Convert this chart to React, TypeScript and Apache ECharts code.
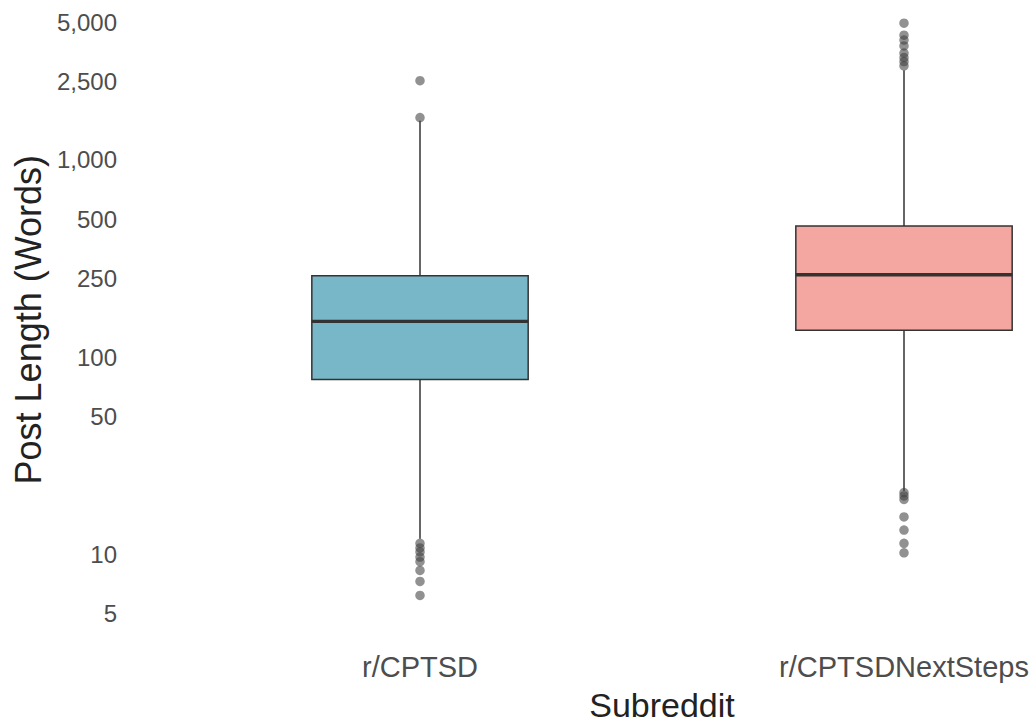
import React, { useEffect, useRef } from "react";
import * as echarts from "echarts";

const categories = ["r/CPTSD", "r/CPTSDNextSteps"];
const boxMin = [12, 21];
const boxQ1 = [77, 137];
const boxMedian = [152, 262];
const boxQ3 = [259, 462];
const boxMax = [1580, 2850];
const outliersCPTSD = [2520, 1640, 11.4, 10.8, 10.3, 9.7, 9.2, 8.3, 7.3, 6.2];
const outliersNextSteps = [4930, 4290, 4050, 3780, 3480, 3300, 3150, 3000, 20.6, 19.8, 19.0, 15.5, 13.3, 11.4, 10.2];
const tickValues = [5, 10, 50, 100, 250, 500, 1000, 2500, 5000];
const boxColors = ["#78B7C8", "#F4A6A1"];

const lg = (v: number) => Math.log10(v);

export default function App() {
  const ref = useRef<HTMLDivElement>(null);
  useEffect(() => {
    if (!ref.current) return;
    const chart = echarts.init(ref.current, null, { renderer: "svg" });
    const boxData = categories.map((_, i) => [
      i,
      lg(boxMin[i]),
      lg(boxQ1[i]),
      lg(boxMedian[i]),
      lg(boxQ3[i]),
      lg(boxMax[i]),
    ]);
    const outlierData = [
      ...outliersCPTSD.map((v) => [0, lg(v)]),
      ...outliersNextSteps.map((v) => [1, lg(v)]),
    ];
    const font = "'Liberation Sans', Arial, sans-serif";
    chart.setOption({
      animation: false,
      backgroundColor: "#ffffff",
      grid: { left: 420, right: 130, top: 6.4, bottom: 83.5, containLabel: false },
      xAxis: {
        type: "category",
        data: categories,
        boundaryGap: false,
        axisLine: { show: false },
        axisTick: { show: false },
        splitLine: { show: false },
        axisLabel: { fontSize: 29, color: "#4d4d4d", margin: 19, fontFamily: font },
        name: "Subreddit",
        nameLocation: "middle",
        nameGap: 55,
        nameTextStyle: { fontSize: 34, color: "#222222", fontFamily: font },
      },
      yAxis: {
        type: "value",
        min: lg(4),
        max: lg(6000),
        axisLine: { show: false },
        axisTick: { show: false, customValues: tickValues.map(lg) },
        splitLine: { show: false },
        axisLabel: {
          customValues: tickValues.map(lg),
          formatter: (v: number) => Math.round(Math.pow(10, v)).toLocaleString("en-US"),
          fontSize: 24,
          color: "#4d4d4d",
          margin: 303,
          fontFamily: font,
        },
        name: "Post Length (Words)",
        nameLocation: "middle",
        nameRotate: 90,
        nameGap: 374,
        nameTextStyle: { fontSize: 36, color: "#222222", fontFamily: font },
      },
      series: [
        {
          type: "custom",
          data: boxData,
          encode: { x: 0, y: [1, 2, 3, 4, 5] },
          renderItem: (params: any, api: any) => {
            const x = api.value(0);
            const pMin = api.coord([x, api.value(1)]);
            const pQ1 = api.coord([x, api.value(2)]);
            const pMed = api.coord([x, api.value(3)]);
            const pQ3 = api.coord([x, api.value(4)]);
            const pMax = api.coord([x, api.value(5)]);
            const bw = api.size([1, 0])[0] * 0.447;
            const cx = pMed[0];
            const stroke = "#333333";
            return {
              type: "group",
              children: [
                { type: "line", shape: { x1: cx, y1: pMax[1], x2: cx, y2: pQ3[1] }, style: { stroke, lineWidth: 1.5 } },
                { type: "line", shape: { x1: cx, y1: pQ1[1], x2: cx, y2: pMin[1] }, style: { stroke, lineWidth: 1.5 } },
                {
                  type: "rect",
                  shape: { x: cx - bw / 2, y: pQ3[1], width: bw, height: pQ1[1] - pQ3[1] },
                  style: { fill: boxColors[params.dataIndex], stroke, lineWidth: 1.5 },
                },
                { type: "line", shape: { x1: cx - bw / 2, y1: pMed[1], x2: cx + bw / 2, y2: pMed[1] }, style: { stroke, lineWidth: 3.4 } },
              ],
            };
          },
          z: 2,
        },
        {
          type: "scatter",
          data: outlierData,
          symbol: "circle",
          symbolSize: 9.5,
          itemStyle: { color: "rgba(65,65,65,0.72)" },
          z: 3,
        },
      ],
    });
    return () => chart.dispose();
  }, []);
  return (
    <div
      ref={ref}
      style={{ position: "absolute", left: 0, top: 0, width: 1034, height: 727, background: "#fff" }}
    />
  );
}
